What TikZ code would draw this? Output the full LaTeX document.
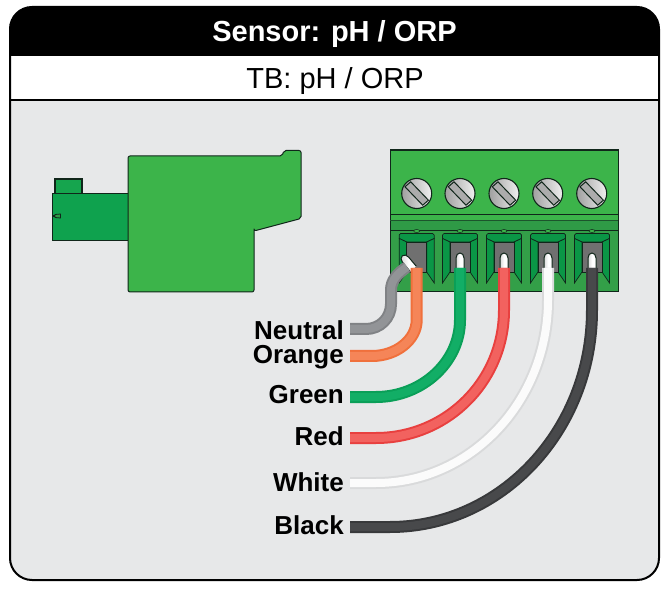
\documentclass[tikz,border=0pt]{standalone}
\usepackage{fontspec}
\setmainfont{Liberation Sans}
\definecolor{panel}{HTML}{E7E8E9}
\definecolor{gmain}{HTML}{3CB44A}
\definecolor{gdark}{HTML}{0FA24E}
\definecolor{gband}{HTML}{2F9A46}
\definecolor{glow}{HTML}{339F48}
\definecolor{gslot}{HTML}{0A9646}
\definecolor{outl}{HTML}{10261A}
\definecolor{ne}{HTML}{808285}\definecolor{nc}{HTML}{929497}
\definecolor{oe}{HTML}{F0703C}\definecolor{oc}{HTML}{F58558}
\definecolor{ge}{HTML}{0A9F58}\definecolor{gc}{HTML}{12AE66}
\definecolor{re}{HTML}{E8403F}\definecolor{rc}{HTML}{F2625F}
\definecolor{we}{HTML}{D9DADB}\definecolor{wc}{HTML}{FBFBFB}
\definecolor{ke}{HTML}{38393B}\definecolor{kc}{HTML}{48494B}
\tikzset{
 x=1pt,y=-1pt,
 wire/.style n args={2}{draw=#1,double=#2,double distance=8pt,line width=2pt,line cap=butt,line join=round},
 lab/.style={font=\fontsize{26}{28}\selectfont\bfseries,anchor=base east,text=black,inner sep=0pt},
 body/.style={draw=outl,line width=1pt,line join=round},
 screw/.style={circle,draw=outl,line width=1.1pt,minimum size=30pt,inner sep=0pt,left color=gray!75,right color=gray!12},
 pin/.style={draw=outl,line width=1pt,left color=gray!30,right color=white,middle color=white},
}
\newcommand{\termcell}[1]{%
 \begin{scope}[shift={(#1,0)}]
  \fill[gslot,draw=outl,line width=.7pt] (-17.5,235) -- (-16,233.5) -- (16,233.5) -- (17.5,235) -- (17.5,238.5) -- (10,242) -- (-10,242) -- (-17.5,238.5) -- cycle;
  \fill[gslot,draw=outl,line width=.7pt] (-17.5,238.5)--(-10,242)--(-10,272)--(-17.5,283)--cycle;
  \fill[gslot,draw=outl,line width=.7pt] (17.5,238.5)--(10,242)--(10,272)--(17.5,283)--cycle;
  \fill[gray!88!black,draw=outl,line width=.7pt] (-10,242) rectangle (10,272);
  \draw[outl,line width=.5pt,fill=gmain] (0,231) ellipse (3 and 1.5);
 \end{scope}}
\newcommand{\pinv}[1]{%
 \draw[pin] (#1-4,270) -- (#1-4,258) arc[start angle=180,end angle=360,x radius=4,y radius=5] -- (#1+4,270);}
\begin{document}
\begin{tikzpicture}
\useasboundingbox (0,0) rectangle (669,593);
\fill[white] (0,0) rectangle (669,593);
% frame
\begin{scope}
 \clip[rounded corners=22pt] (10,7) rectangle (659,580);
 \fill[panel] (10,7) rectangle (659,580);
 \fill[black] (10,7) rectangle (659,56);
 \fill[white] (10,56) rectangle (659,100);
\end{scope}
\draw[black,line width=2pt] (10,100) -- (659,100);
\draw[black,line width=2pt,rounded corners=22pt] (10,7) rectangle (659,580);
\node[font=\fontsize{29}{31}\selectfont\bfseries,text=white,anchor=base,inner sep=0pt] (title) at (334.5,41.5) {Sensor: pH / ORP};
\node[font=\fontsize{29}{31}\selectfont,anchor=base,inner sep=0pt] (sub) at (335,89) {TB: pH / ORP};
% plug
\fill[gdark!85!gmain,draw=outl,line width=1.2pt] (55,194) rectangle (82,179);
\fill[gdark,body] (52,194) rectangle (128,241);
\draw[outl,line width=1.3pt] (52.5,216) -- (55.5,216);
\draw[outl,line width=.8pt,fill=gband] (55,214.5) -- (60.5,214) -- (60.5,218) -- (55,217.5) -- cycle;
\draw[body,fill=gmain,rounded corners=2pt] (128,156) -- (282,156) -- (284,150.5) -- (301,150.5) -- (301,218.5) -- (254,231) [sharp corners] -- (254,231) [rounded corners=2pt] -- (254,292) -- (128,292) -- cycle;
% terminal
\fill[glow,draw=outl,line width=1pt] (390,150) rectangle (618,292);
\fill[gmain] (390.5,151) rectangle (617.5,214);
\draw[outl,line width=2pt] (390,150)--(618,150);
\fill[gmain] (390.5,214) rectangle (617.5,220);
\fill[gband] (390.5,220) rectangle (617.5,231);
\draw[outl,line width=1pt] (390,214.5)--(618,214.5) (390,231)--(618,231);
\draw[outl!60!gband,line width=.6pt] (390,220)--(618,220);
\termcell{416.7}\termcell{460}\termcell{504}\termcell{548}\termcell{592}
\foreach \n/\x in {1/416.7,2/460,3/504,4/547.7,5/591.7}{
 \node[screw] (s\n) at (\x,193.5) {};
 \draw[outl,line width=1pt,fill=gray!65] (\x-11.7,186.8) -- (\x-6,181.8) -- (\x+11.7,200.2) -- (\x+6,205.2) -- cycle;
}
% pins
\pinv{460}\pinv{504}\pinv{548}\pinv{592}
\draw[pin,rotate around={40:(410,265)}] (406,270) -- (406,258) arc[start angle=180,end angle=360,x radius=4,y radius=5] -- (414,270);
% wires
\coordinate (n0) at (350,329);\coordinate (n1) at (407,267);
\coordinate (o0) at (350,356);\coordinate (o1) at (416.7,268);
\coordinate (g0) at (350,397);\coordinate (g1) at (460,268);
\coordinate (r0) at (350,438);\coordinate (r1) at (504,268);
\coordinate (w0) at (350,483);\coordinate (w1) at (548,268);
\coordinate (k0) at (350,527);\coordinate (k1) at (592,268);
\draw[wire={ne}{nc}] (n0) -- (366,329) .. controls (380,329) and (391,318) .. (391,304) -- (391,290) .. controls (391,280) and (398,273) .. (n1);
\draw[wire={oe}{oc}] (o0) -- (372,356) .. controls (396,356) and (416.7,340) .. (416.7,320) -- (o1);
\draw[wire={ge}{gc}] (g0) -- (376,397) .. controls (422,397) and (460,362) .. (460,320) -- (g1);
\draw[wire={re}{rc}] (r0) -- (376,438) .. controls (447,438) and (504,381) .. (504,310) -- (r1);
\draw[wire={we}{wc}] (w0) -- (376,483) .. controls (471,483) and (548,401) .. (548,300) -- (w1);
\draw[wire={ke}{kc}] (k0) -- (390,527) .. controls (501.5,527) and (592,430) .. (592,310) -- (k1);
% labels
\node[lab] (ln) at (344,339.5) {Neutral};
\node[lab] (lo) at (344,363) {Orange};
\node[lab] (lg) at (344,403.5) {Green};
\node[lab] (lr) at (344,445) {Red};
\node[lab] (lw) at (344,491.5) {White};
\node[lab] (lk) at (344,534) {Black};
\end{tikzpicture}
\end{document}
